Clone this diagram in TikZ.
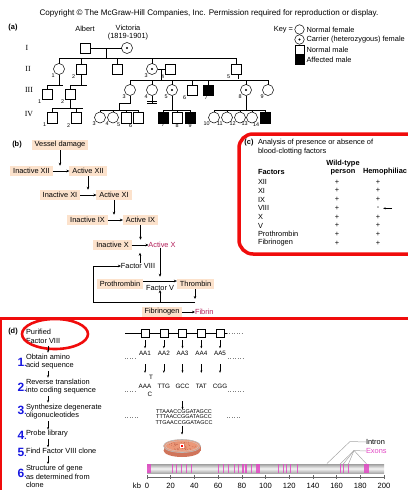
\documentclass[tikz,border=0pt]{standalone}
\usepackage{fontspec}
\setmainfont{Liberation Sans}
\newfontfamily\romanfont{Liberation Serif}
\usetikzlibrary{arrows.meta,calc,shapes.geometric}
\definecolor{boxfill}{RGB}{252,226,204}
\definecolor{actcol}{RGB}{178,28,88}
\definecolor{framered}{RGB}{240,12,12}
\definecolor{numblue}{RGB}{22,22,225}
\definecolor{exon}{RGB}{226,72,196}
\definecolor{dishtop}{RGB}{236,152,120}
\definecolor{dishside}{RGB}{208,116,90}
\definecolor{colony}{RGB}{178,82,62}
\begin{document}
\begin{tikzpicture}[x=1pt,y=-1pt,
  every node/.style={inner sep=0pt,outer sep=0pt},
  txt/.style={font=\fontsize{7.4}{8.8}\selectfont},
  small/.style={font=\fontsize{6.3}{7}\selectfont},
  tag/.style={font=\fontsize{7.4}{8.8}\selectfont\bfseries},
  num/.style={font=\fontsize{5.4}{6}\selectfont,inner sep=0.5pt},
  gen/.style={font=\romanfont\fontsize{7.8}{8}\selectfont},
  male/.style={draw,rectangle,minimum size=10.5pt,line width=0.5pt},
  female/.style={draw,circle,minimum size=11pt,line width=0.5pt},
  carrier/.style={female,path picture={\fill (path picture bounding box.center) circle (1.2pt);}},
  affected/.style={male,fill=black},
  kin/.style={line width=0.5pt},
  bx/.style={txt,fill=boxfill,inner xsep=3pt,minimum height=10.5pt},
  act/.style={txt,text=actcol},
  arr/.style={-{Stealth[length=3pt,width=2.6pt]},line width=0.45pt},
  sarr/.style={-{Stealth[length=2.4pt,width=2pt]},line width=0.4pt},
  dots/.style={dotted,gray,line width=0.45pt},
  lead/.style={gray!70,line width=0.5pt},
  numb/.style={font=\fontsize{12}{12}\selectfont\bfseries,text=numblue},
]
\useasboundingbox (0,0) rectangle (407,490);

% ---------- header ----------
\node[font=\fontsize{8.1}{9}\selectfont] (copy) at (209,13.5)
  {Copyright © The McGraw-Hill Companies, Inc. Permission required for reproduction or display.};

% ---------- (a) pedigree ----------
\node[tag] (ta) at (13,28) {(a)};
\node[txt] (nAlbert) at (85,28.5) {Albert};
\node[txt,align=center] (nVictoria) at (128,32.5) {Victoria\\(1819-1901)};
\node[gen] (gI) at (27,48) {I};
\node[gen] (gII) at (28,68.5) {II};
\node[gen] (gIII) at (29,89.5) {III};
\node[gen] (gIV) at (29,114) {IV};

% generation I
\node[male] (albert) at (85,48) {};
\node[carrier] (victoria) at (127,48) {};
% generation II
\node[female,label={[num]below left:1}] (ii1) at (59,69) {};
\node[male,label={[num]below left:2}] (ii2) at (81,69) {};
\node[male] (iix) at (117,69) {};
\node[carrier,label={[num]below left:3}] (ii3) at (152,69) {};
\node[male,label={[num]below left:4}] (ii4) at (170,69) {};
\node[male,label={[num]below left:5}] (ii5) at (236,69) {};
% generation III
\node[male,label={[num]below left:1}] (iii1) at (47,94) {};
\node[male,label={[num]below left:2}] (iii2) at (70,94) {};
\node[female,label={[num]below left:3}] (iii3) at (130,90) {};
\node[female,label={[num]below left:4}] (iii4) at (152,90) {};
\node[carrier,label={[num]below left:5}] (iii5) at (172,90) {};
\node[male,label={[num]below left:6}] (iii6) at (192,90) {};
\node[affected,label={[num,xshift=-2pt]below:7}] (iii7) at (208,90) {};
\node[carrier,label={[num]below left:8}] (iii8) at (246,90) {};
\node[female,label={[num]below left:9}] (iii9) at (268,90) {};
% generation IV
\node[male,label={[num]below left:1}] (iv1) at (52,117.5) {};
\node[male,label={[num]below left:2}] (iv2) at (76,117.5) {};
\node[female,label={[num]below left:3}] (iv3) at (100,117.5) {};
\node[female,label={[num]below left:4}] (iv4) at (113,117.5) {};
\node[male,label={[num]below left:5}] (iv5) at (126,117.5) {};
\node[male,label={[num]below left:6}] (iv6) at (138,117.5) {};
\node[affected,label={[num]below:7}] (iv7) at (163,117.5) {};
\node[male,label={[num]below:8}] (iv8) at (177,117.5) {};
\node[affected,label={[num]below:9}] (iv9) at (190,117.5) {};
\node[female,label={[num]below left:10}] (iv10) at (214,117.5) {};
\node[female,label={[num]below left:11}] (iv11) at (227,117.5) {};
\node[female,label={[num]below left:12}] (iv12) at (240,117.5) {};
\node[female,label={[num]below left:13}] (iv13) at (252,117.5) {};
\node[affected,label={[num]below left:14}] (iv14) at (265,117.5) {};

% lines of descent
\draw[kin] (albert) -- (victoria);
\coordinate (m1) at ($(albert.east)!.5!(victoria.west)$);
\coordinate (bar2) at (0,58);
\draw[kin] (m1) -- (m1 |- bar2);
\draw[kin] (ii1.north |- bar2) -- (ii5.north |- bar2);
\foreach \n in {ii1,ii2,iix,ii3,ii5} \draw[kin] (\n.north) -- (\n.north |- bar2);
\draw[kin] ([xshift=2.5pt]ii5.south) -- ++(0,4.5);

\draw[kin] (ii3) -- (ii4);
\coordinate (m2) at ($(ii3.east)!.5!(ii4.west)$);
\coordinate (bar3) at (0,80);
\draw[kin] (m2) -- (m2 |- bar3);
\draw[kin] (iii3.north |- bar3) -- (iii9.north |- bar3);
\foreach \n in {iii3,iii4,iii5,iii6,iii7,iii8,iii9} \draw[kin] (\n.north) -- (\n.north |- bar3);

\coordinate (b1r) at (63,85);
\draw[kin] (ii1.south) -- (ii1.south |- b1r);
\draw[kin] (iii1.north |- b1r) -- (b1r);
\draw[kin] (iii1.north) -- (iii1.north |- b1r);
\coordinate (b2r) at (87,85);
\draw[kin] (ii2.south) -- (ii2.south |- b2r);
\draw[kin] (iii2.north |- b2r) -- (b2r);
\draw[kin] (iii2.north) -- (iii2.north |- b2r);

\coordinate (b3r) at (83,108);
\draw[kin] (iii2.south) -- (iii2.south |- b3r);
\draw[kin] (iv1.north |- b3r) -- (b3r);
\foreach \n in {iv1,iv2} \draw[kin] (\n.north) -- (\n.north |- b3r);

\coordinate (bar4) at (0,110);
\coordinate (k3) at (119,103);
\draw[kin] (iii3.south) |- (k3) -- (k3 |- bar4);
\draw[kin] (iv3.north |- bar4) -- (iv6.north |- bar4);
\foreach \n in {iv3,iv4,iv5,iv6} \draw[kin] (\n.north) -- (\n.north |- bar4);

\draw[kin] (iii4.south) -- ($(iii4.south)+(0,8)$);
\draw[kin] ($(iii4.south)+(-5,6)$) -- ++(10,0);
\draw[kin] ($(iii4.south)+(-5,8)$) -- ++(10,0);

\draw[kin] (iii5.south) -- (iii5.south |- bar4);
\draw[kin] (iv7.north |- bar4) -- (iv9.north |- bar4);
\foreach \n in {iv7,iv8,iv9} \draw[kin] (\n.north) -- (\n.north |- bar4);

\draw[kin] (iii8.south) -- (iii8.south |- bar4);
\draw[kin] (iv10.north |- bar4) -- (iv14.north |- bar4);
\foreach \n in {iv10,iv11,iv12,iv13,iv14} \draw[kin] (\n.north) -- (\n.north |- bar4);

% key
\node[txt,anchor=east] (keylbl) at (293,29.5) {Key =};
\node[female,minimum size=9.5pt] (kf) at (299.5,29.5) {};
\node[carrier,minimum size=9.5pt] (kc) at (299.5,39.5) {};
\node[male,minimum size=9pt] (km) at (299.5,49.5) {};
\node[affected,minimum size=9pt] (ka) at (299.5,59.5) {};
\node[txt,anchor=west] (kft) at (306.5,29.5) {Normal female};
\node[txt,anchor=west] (kct) at (306.5,39.5) {Carrier (heterozygous) female};
\node[txt,anchor=west] (kmt) at (306.5,49.5) {Normal male};
\node[txt,anchor=west] (kat) at (306.5,59.5) {Affected male};

% ---------- (b) clotting cascade ----------
\node[tag] (tb) at (17,145) {(b)};
\node[bx] (vd) at (60,145) {Vessel damage};
\node[bx] (i12) at (31.5,171) {Inactive XII};
\node[bx] (a12) at (88,171) {Active XII};
\node[bx] (i11) at (60,195) {Inactive XI};
\node[bx] (a11) at (114,195) {Active XI};
\node[bx] (i9) at (87.5,220) {Inactive IX};
\node[bx] (a9) at (140.5,220) {Active IX};
\node[bx] (i10) at (112.5,245) {Inactive X};
\node[act] (a10) at (162,245) {Active X};
\node[txt] (f8) at (138,266) {Factor VIII};
\node[bx] (pro) at (120,284) {Prothrombin};
\node[txt] (fv) at (160,287.5) {Factor V};
\node[bx] (thr) at (195.5,284) {Thrombin};
\node[bx] (fib) at (162,312) {Fibrinogen};
\node[act,anchor=west] (fibrin) at (195,312) {Fibrin};

\draw[arr] (i12) -- (a12);
\draw[arr] (vd.south) -- (vd.south |- a12.north);
\draw[arr] (i11) -- (a11);
\draw[arr] (a12.south) -- (a12.south |- a11.north);
\draw[arr] (i9) -- (a9);
\draw[arr] (a11.south) -- (a11.south |- a9.north);
\draw[arr] (i10) -- (a10);
\draw[arr] (a9.south) -- (a9.south |- i10.north);
\coordinate (a10x) at (160,0);
\draw[arr] (a10.south -| a10x) -- ([yshift=2pt]pro.north -| a10x);
\draw[arr] ([yshift=3pt]pro.east) -- ([yshift=3pt]thr.west);
\coordinate (f8x) at (140,0);
\draw[arr] (f8.north -| f8x) -- ([yshift=-2.5pt]i10.south -| f8x);
\coordinate (loopR) at (195,302);
\coordinate (loopL) at (93,302);
\draw[arr] (thr.south -| loopR) -- ([yshift=3pt]loopR);
\draw[line width=0.45pt] (loopR) -- (loopL);
\draw[arr] (loopL) |- (f8.west);
\draw[arr] (fv.south |- loopR) -- (fv.south);
\draw[arr] (fib) -- (fibrin);

% ---------- (c) factor table ----------
\draw[framered,line width=3.5pt,rounded corners=14pt] (239,134) rectangle (440,254);
\node[tag] (tc) at (249,143) {(c)};
\node[txt,anchor=west,align=left] (ctitle) at (258,147) {Analysis of presence or absence of\\blood-clotting factors};
\node[tag,anchor=west] (hfac) at (258,172) {Factors};
\node[tag,align=center] (hwt) at (343,167.5) {Wild-type\\person};
\node[tag,anchor=west] (hhem) at (363,172) {Hemophiliac};
\foreach \id/\fac/\w/\h/\yy in {1/XII/+/+/182, 2/XI/+/+/190.7, 3/IX/+/+/199.5,
    4/VIII/+/-/208.3, 5/X/+/+/217, 6/V/+/+/225.7, 7/Prothrombin/+/+/234.3, 8/Fibrinogen/+/+/243}{
  \node[txt,anchor=west] (fac\id) at (258,\yy) {\fac};
  \node[txt] (wt\id) at (337,\yy) {\w};
  \node[txt] (hm\id) at (378,\yy) {\h};
}
\draw[sarr] ([xshift=13pt]hm4.east) -- ([xshift=4pt]hm4.east);

% ---------- (d) cloning Factor VIII ----------
\draw[framered,line width=3pt] (0.4,495) -- (0.4,318) -- (410,318);
\node[tag] (td) at (13,332) {(d)};
\node[txt,align=left,anchor=west] (pf) at (26,336.5) {Purified\\Factor VIII};
\draw[framered,line width=2.6pt] (55,334) ellipse (33 and 15);

\node[txt,align=left,anchor=west] (s1) at (26,361.5) {Obtain amino\\acid sequence};
\node[txt,align=left,anchor=west] (s2) at (26,386.5) {Reverse translation\\into coding sequence};
\node[txt,align=left,anchor=west] (s3) at (26,411.5) {Synthesize degenerate\\oligonucleotides};
\node[txt,align=left,anchor=west] (s4) at (26,434) {Probe library};
\node[txt,align=left,anchor=west] (s5) at (26,451) {Find Factor VIII clone};
\node[txt,align=left,anchor=west] (s6) at (26,476.5) {Structure of gene\\as determined from\\clone};
\coordinate (dx) at (48,0);
\foreach \a/\b in {pf/s1,s1/s2,s2/s3,s3/s4,s4/s5,s5/s6}
  \draw[sarr,shorten <=2pt,shorten >=1pt] (\a.south -| dx) -- (\b.north -| dx);

\foreach \k/\yy in {1/362,2/387,3/410,4/435,5/452,6/473}
  \node[numb,anchor=east] (n\k) at (26.5,\yy) {\k\fontsize{8}{8}\selectfont.};

% protein, amino acids, codons
\foreach \i/\xx/\cod in {1/145/AAA,2/163.8/TTG,3/182.5/GCC,4/201.3/TAT,5/220/CGG}{
  \node[draw,minimum size=8pt,line width=0.45pt] (sq\i) at (\xx,333) {};
  \node[small,inner sep=1pt] (aa\i) at (\xx,353) {AA\i};
  \node[small,inner sep=1pt] (cd\i) at (\xx,386) {\cod};
}
\coordinate (chL) at (125,333);
\coordinate (chR) at (227,333);
\coordinate (chRR) at (243,333);
\draw[line width=0.45pt] (chL) -- (sq1) (sq1) -- (sq2) (sq2) -- (sq3) (sq3) -- (sq4) (sq4) -- (sq5) (sq5) -- (chR);
\draw[dots] (chR) -- (chRR);
\foreach \i in {1,...,5}{
  \draw[sarr,shorten <=3pt,shorten >=1.5pt] (sq\i.south) -- (aa\i.north);
  \draw[sarr,shorten <=8pt,shorten >=10pt] (aa\i.south) -- (cd\i.north);
}
\node[small] (alt1) at (151,377.5) {T};
\node[small] (alt2) at (150,394.5) {C};
\draw[dots] (125,358) -- (137,358);
\draw[dots] (228,358) -- (243,358);
\draw[dots] (125,391) -- (137,391);
\draw[dots] (228,391) -- (243,391);
\draw[dots] (125,417) -- (139,417);
\draw[dots] (227,417) -- (241,417);

\node[font=\fontsize{5.5}{5.7}\selectfont,align=center] (olig) at (184,417)
  {TTAAACCGGATAGCC\\TTTAACCGGATAGCC\\TTGAACCGGATAGCC};
\draw[sarr,shorten <=12pt] (cd3.south) -- (cd3.south |- olig.north);

% petri dish with colonies
\coordinate (dishN) at (182,439.5);
\fill[dishside] (182,450.5) ellipse (18.5 and 6.5);
\fill[dishside] (163.5,446) rectangle (200.5,450.5);
\filldraw[fill=dishtop,draw=gray!55,line width=0.6pt] (182,446) ellipse (18.5 and 6.5);
\draw[gray!40,line width=0.35pt] (182,446) ellipse (16.5 and 5.2);
\pgfmathsetseed{11}
\foreach \k in {1,...,55}{
  \pgfmathsetmacro\ang{360*rnd}
  \pgfmathsetmacro\rr{sqrt(rnd)}
  \fill[colony] ({182+15*\rr*cos(\ang)},{446+4.6*\rr*sin(\ang)}) circle (0.35pt);
}
\filldraw[fill=red,draw=white,line width=0.4pt] (180.5,444.5) rectangle (183.5,447.5);
\draw[sarr,shorten <=1pt,shorten >=5pt] (olig.south -| dishN) -- (dishN);

% gene map
\shade[top color=gray!75,bottom color=gray!65,middle color=gray!8] (147,464) rectangle (384,473);
\foreach \a/\b in {0/3, 21.3/22.3, 24.6/25.6, 28.8/29.8, 33/34, 37.2/38.2,
    59.5/60.5, 63.9/64.9, 68.1/69.1, 73.5/74.5, 76.5/77.5, 80.5/81.5, 83/84,
    87.5/88.5, 92/95, 110.3/111.3, 114.5/115.5, 117.5/118.5, 120.7/121.7,
    126.3/127.3, 162.5/163.5, 165.2/166.2, 169.5/170.5, 183.5/187}
  \fill[exon,opacity=0.85] ({147+1.185*\a},464) rectangle ({147+1.185*\b},473);

\node[txt,anchor=west] (intron) at (366,442) {Intron};
\node[txt,anchor=west,text=exon] (exons) at (366,451) {Exons};
\coordinate (inA) at (327,463.5);
\coordinate (inB) at (350,441.5);
\draw[lead] (inA) -- (inB) -- (intron.west);
\coordinate (exF) at (354,450.5);
\draw[lead] (exF) -- (exons.west);
\foreach \kb in {163,165.7,170,185.3}
  \draw[lead] (exF) -- ({147+1.185*\kb},464);

% kb scale
\coordinate (ax0) at (147,477.5);
\coordinate (ax1) at (384,477.5);
\draw[line width=0.5pt,gray!80!black] (ax0) -- (ax1);
\foreach \k in {0,20,...,200}{
  \draw[line width=0.5pt,gray!80!black] ({147+1.185*\k},475) -- ({147+1.185*\k},479);
  \node[font=\fontsize{7.6}{8}\selectfont] (kb\k) at ({147+1.185*\k},485.5) {\k};
}
\node[font=\fontsize{7.6}{8}\selectfont] (kbl) at (137,485.5) {kb};

\end{tikzpicture}
\end{document}
